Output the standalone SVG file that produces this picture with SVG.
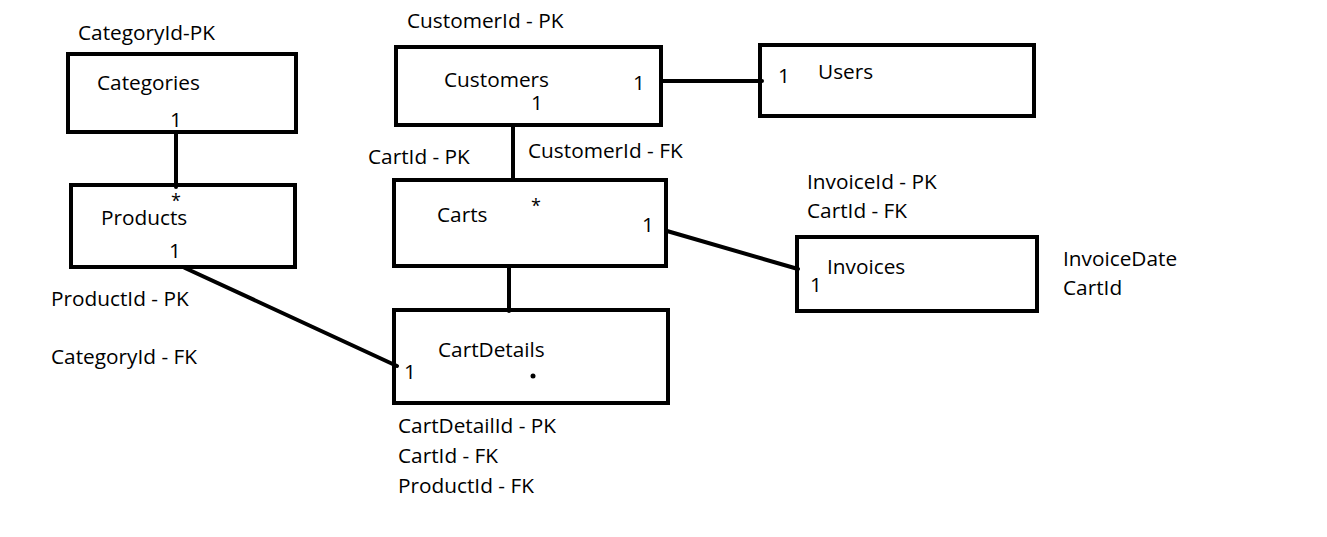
<svg xmlns="http://www.w3.org/2000/svg" width="1327" height="537" viewBox="0 0 1327 537">
<style>
.box{fill:none;stroke:#000;stroke-width:4}
.ln{fill:none;stroke:#000;stroke-width:4;stroke-linecap:round}
text{font-family:"Open Sans","Noto Sans",sans-serif;font-size:20.8px;fill:#000}
.star{font-size:18px}
</style>
<rect width="1327" height="537" fill="#fff"/>
<g id="connectors">
<line class="ln" x1="176" y1="134" x2="176" y2="187"/>
<line class="ln" x1="513" y1="127" x2="513" y2="180"/>
<line class="ln" x1="663" y1="81" x2="762" y2="81"/>
<line class="ln" x1="667" y1="231" x2="798" y2="269"/>
<line class="ln" x1="509" y1="266" x2="509" y2="311"/>
<line class="ln" x1="185" y1="268" x2="397" y2="366"/>
</g>
<g id="categories">
<rect class="box" x="68" y="54" width="228" height="78"/>
<text x="78" y="40">CategoryId-PK</text>
<text x="97" y="90">Categories</text>
<text x="170" y="127">1</text>
</g>
<g id="products">
<rect class="box" x="71" y="185" width="224" height="82"/>
<text class="star" x="171" y="207">*</text>
<text x="101" y="225">Products</text>
<text x="169" y="258">1</text>
<text x="51" y="306">ProductId - PK</text>
<text x="51" y="364">CategoryId - FK</text>
</g>
<g id="customers">
<rect class="box" x="396" y="47" width="265" height="78"/>
<text x="407" y="28">CustomerId - PK</text>
<text x="444" y="87">Customers</text>
<text x="633" y="90">1</text>
<text x="531" y="110">1</text>
</g>
<g id="users">
<rect class="box" x="760" y="45" width="274" height="71"/>
<text x="778" y="83">1</text>
<text x="818" y="79">Users</text>
</g>
<g id="carts">
<rect class="box" x="394" y="180" width="272" height="86"/>
<text x="368" y="164">CartId - PK</text>
<text x="528" y="158">CustomerId - FK</text>
<text class="star" x="531" y="212">*</text>
<text x="437" y="222">Carts</text>
<text x="642" y="232">1</text>
</g>
<g id="invoices">
<rect class="box" x="797" y="237" width="240" height="74"/>
<text x="807" y="189">InvoiceId - PK</text>
<text x="807" y="218">CartId - FK</text>
<text x="827" y="274">Invoices</text>
<text x="810" y="292">1</text>
<text x="1063" y="266">InvoiceDate</text>
<text x="1063" y="295">CartId</text>
</g>
<g id="cartdetails">
<rect class="box" x="394" y="310" width="274" height="93"/>
<text x="438" y="357">CartDetails</text>
<text x="404" y="379">1</text>
<circle cx="533" cy="376" r="2.5" fill="#000"/>
<text x="398" y="433">CartDetailId - PK</text>
<text x="398" y="463">CartId - FK</text>
<text x="398" y="493">ProductId - FK</text>
</g>
</svg>
